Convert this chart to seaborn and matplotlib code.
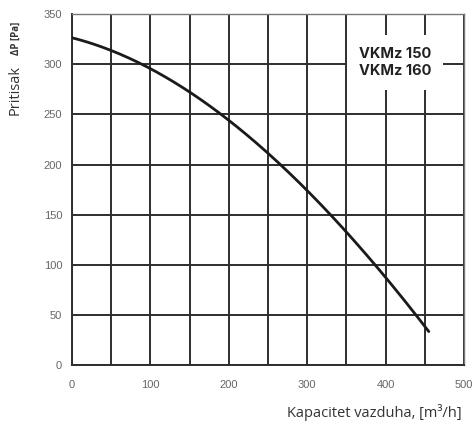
import numpy as np
import pandas as pd
import matplotlib
matplotlib.use("Agg")
import matplotlib.pyplot as plt
import seaborn as sns

# curve
airflow = [0, 50, 100, 150, 200, 250, 300, 350, 400, 455]
pressure = [328, 312, 294, 272, 247, 212, 174, 132, 85, 35]
x_ticks = [0, 100, 200, 300, 400, 500]
y_ticks = [0, 50, 100, 150, 200, 250, 300, 350]
models = ["VKMz 150", "VKMz 160"]

df = pd.DataFrame({"Airflow": airflow, "Pressure": pressure})

sns.set_style("white")
plt.rcParams["font.family"] = ["Liberation Sans", "DejaVu Sans"]

fig = plt.figure(figsize=(4.76, 4.28), dpi=100)
ax = fig.add_axes([0.151, 0.147, 0.824, 0.820])

# smooth the read points a little for drawing
xs = np.linspace(airflow[0], airflow[-1], 200)
coef = np.polyfit(airflow, pressure, 3)
smooth = pd.DataFrame({"Airflow": xs, "Pressure": np.polyval(coef, xs)})
sns.lineplot(data=smooth, x="Airflow", y="Pressure", ax=ax, color="#1a1a1a", linewidth=2.0, zorder=3)

ax.set_xlim(0, 500)
ax.set_ylim(0, 350)
ax.set_xticks(x_ticks)
ax.set_yticks(y_ticks)
ax.set_xticks(np.arange(50, 500, 100), minor=True)
ax.grid(True, which="both", color="#2e2e2e", linewidth=1.4)
ax.tick_params(axis="both", which="major", direction="out", length=3, width=0.8,
               colors="#888888", labelcolor="#666666", labelsize=8, pad=4)
ax.tick_params(axis="x", which="minor", length=0)
ax.tick_params(axis="x", which="major", pad=8)
for side in ["left", "bottom"]:
    ax.spines[side].set_color("#2e2e2e")
    ax.spines[side].set_linewidth(1.4)
for side in ["top", "right"]:
    ax.spines[side].set_color("#777777")
    ax.spines[side].set_linewidth(1.0)
ax.set_xlabel("")
ax.set_ylabel("")

ax.text(412, 302, "\n".join(models), ha="center", va="center", fontsize=10.5,
        fontweight="bold", family=["Inter", "DejaVu Sans"], color="#222222",
        linespacing=1.3, zorder=4,
        bbox=dict(boxstyle="square,pad=0.8", facecolor="white", edgecolor="none"))

fig.text(0.970, 0.037, "Kapacitet vazduha, [m³/h]", ha="right", va="center",
         fontsize=10.5, color="#333333", family=["Open Sans", "DejaVu Sans"])
fig.text(0.032, 0.790, "Pritisak", rotation=90, ha="center", va="center",
         fontsize=10.5, color="#333333", family=["Open Sans", "DejaVu Sans"])
fig.text(0.034, 0.911, "ΔP [Pa]", rotation=90, ha="center", va="center",
         fontsize=7, color="#333333", fontweight="bold", family=["Open Sans", "DejaVu Sans"])

fig.savefig("out.png", dpi=100)
